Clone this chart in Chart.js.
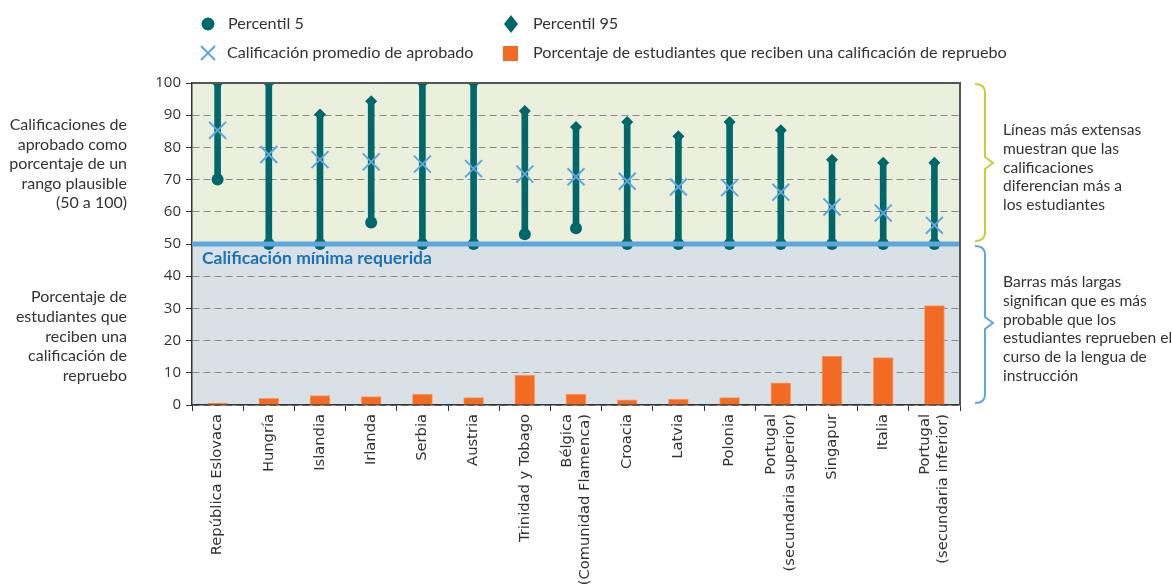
<!DOCTYPE html>
<html>
<head>
<meta charset="utf-8">
<script src="https://cdn.jsdelivr.net/npm/chart.js@4.4.1/dist/chart.umd.min.js"></script>
<style>
  body { margin: 0; background: #fff; }
</style>
</head>
<body>
<canvas id="chart" width="1172" height="588"></canvas>
<script>
// data
var paises = [
    'República Eslovaca', 'Hungría', 'Islandia', 'Irlanda', 'Serbia', 'Austria',
    'Trinidad y Tobago', ['Bélgica', '(Comunidad Flamenca)'], 'Croacia', 'Latvia',
    'Polonia', ['Portugal', '(secundaria superior)'], 'Singapur', 'Italia',
    ['Portugal', '(secundaria inferior)']
];
var percentil5  = [70, 50, 50, 56.7, 50, 50, 53, 54.9, 50, 50, 50, 50, 50, 50, 50];
var percentil95 = [100, 100, 90.2, 94.3, 100, 100, 91.3, 86.3, 87.9, 83.5, 87.9, 85.3, 76.2, 75.2, 75.2];
var promedio    = [85.3, 77.8, 76.2, 75.5, 74.8, 73.4, 71.7, 70.9, 69.5, 67.7, 67.5, 66.1, 61.5, 59.6, 55.8];
var reprueban   = [0.6, 2.1, 2.9, 2.6, 3.4, 2.3, 9.3, 3.4, 1.6, 1.8, 2.3, 6.9, 15.2, 14.7, 30.9];
var yMin = 0, yMax = 100, yStep = 10;
var minimo = 50;

var TEAL = '#00686b';
var CELESTE = '#5ea7dd';
var NARANJA = '#f36a22';
var TEXTO = '#333333';

var rangos = paises.map(function (p, i) { return [percentil5[i], percentil95[i]]; });

// category axis that centres two-line rotated labels on their tick
class CenteredCategory extends Chart.CategoryScale {
    _computeLabelItems(chartArea) {
        var items = super._computeLabelItems(chartArea);
        items.forEach(function (it) {
            if (Array.isArray(it.label) && it.label.length > 1) {
                it.options.translation[0] -= (it.label.length - 1) * it.font.lineHeight / 2;
            }
        });
        return items;
    }
}
CenteredCategory.id = 'centeredCategory';
CenteredCategory.defaults = Chart.CategoryScale.defaults;
Chart.register(CenteredCategory);

function textLines(ctx, lines, x, y0, step) {
    lines.forEach(function (t, i) { ctx.fillText(t, x, y0 + i * step); });
}

function brace(ctx, x0, yTop, yBot, yMid, color) {
    var xv = x0 + 10;
    ctx.save();
    ctx.strokeStyle = color;
    ctx.lineWidth = 2;
    ctx.beginPath();
    ctx.moveTo(x0, yTop);
    ctx.quadraticCurveTo(xv, yTop, xv, yTop + 9);
    ctx.lineTo(xv, yMid - 6);
    ctx.lineTo(xv + 8, yMid);
    ctx.lineTo(xv, yMid + 6);
    ctx.lineTo(xv, yBot - 9);
    ctx.quadraticCurveTo(xv, yBot, x0, yBot);
    ctx.stroke();
    ctx.restore();
}

var decor = {
    id: 'decor',
    beforeDraw: function (chart) {
        var ctx = chart.ctx, a = chart.chartArea, y = chart.scales.y;
        var y50 = y.getPixelForValue(minimo);
        ctx.save();
        ctx.fillStyle = '#ebf0dc';
        ctx.fillRect(a.left, a.top, a.right - a.left, y50 - a.top);
        ctx.fillStyle = '#d9e0e6';
        ctx.fillRect(a.left, y50, a.right - a.left, a.bottom - y50);
        ctx.restore();
    },
    afterDatasetsDraw: function (chart) {
        var ctx = chart.ctx, a = chart.chartArea, y = chart.scales.y;
        var y50 = y.getPixelForValue(minimo);
        ctx.save();
        ctx.strokeStyle = CELESTE;
        ctx.lineWidth = 5;
        ctx.beginPath();
        ctx.moveTo(a.left, y50);
        ctx.lineTo(a.right, y50);
        ctx.stroke();
        ctx.fillStyle = '#1a72b5';
        ctx.font = 'bold 17.5px Lato';
        ctx.textBaseline = 'middle';
        ctx.fillText('Calificación mínima requerida', a.left + 10, y50 + 14);
        ctx.restore();
    },
    afterDraw: function (chart) {
        var ctx = chart.ctx, a = chart.chartArea;
        ctx.save();
        // frame top and right
        ctx.strokeStyle = '#555';
        ctx.lineWidth = 2;
        ctx.beginPath();
        ctx.moveTo(a.left, a.top);
        ctx.lineTo(a.right, a.top);
        ctx.lineTo(a.right, a.bottom);
        ctx.stroke();

        // legend
        ctx.fillStyle = TEAL;
        ctx.beginPath();
        ctx.arc(208, 24, 6.5, 0, Math.PI * 2);
        ctx.fill();
        ctx.beginPath();
        ctx.moveTo(511, 15); ctx.lineTo(518, 24); ctx.lineTo(511, 33); ctx.lineTo(504, 24);
        ctx.closePath();
        ctx.fill();
        ctx.strokeStyle = CELESTE;
        ctx.lineWidth = 2;
        ctx.beginPath();
        ctx.moveTo(201, 46); ctx.lineTo(215, 60);
        ctx.moveTo(215, 46); ctx.lineTo(201, 60);
        ctx.stroke();
        ctx.fillStyle = NARANJA;
        ctx.fillRect(503, 46, 15, 15);

        ctx.fillStyle = TEXTO;
        ctx.font = '16.2px Lato';
        ctx.textBaseline = 'middle';
        ctx.fillText('Percentil 5', 228, 24);
        ctx.fillText('Percentil 95', 533, 24);
        ctx.fillText('Calificación promedio de aprobado', 227, 53);
        ctx.fillText('Porcentaje de estudiantes que reciben una calificación de repruebo', 533, 53);

        // left notes
        ctx.font = '16px Lato';
        ctx.textAlign = 'right';
        textLines(ctx, ['Calificaciones de', 'aprobado como', 'porcentaje de un',
            'rango plausible', '(50 a 100)'], 127, 125, 19.5);
        textLines(ctx, ['Porcentaje de', 'estudiantes que', 'reciben una',
            'calificación de', 'repruebo'], 127, 297, 19.7);

        // right notes
        ctx.font = '15.6px Lato';
        ctx.textAlign = 'left';
        textLines(ctx, ['Líneas más extensas', 'muestran que las', 'calificaciones',
            'diferencian más a', 'los estudiantes'], 1003, 130, 18.8);
        textLines(ctx, ['Barras más largas', 'significan que es más', 'probable que los',
            'estudiantes reprueben el', 'curso de la lengua de', 'instrucción'], 1003, 282, 18.8);
        ctx.restore();

        brace(ctx, 975, 84, 241, 163, '#bdd435');
        brace(ctx, 975, 246, 403, 323, CELESTE);
    }
};

var ctx = document.getElementById('chart').getContext('2d');
var chart = new Chart(ctx, {
    type: 'bar',
    data: {
        labels: paises,
        datasets: [
            {
                type: 'line',
                label: 'Calificación promedio de aprobado',
                data: promedio,
                showLine: false,
                pointStyle: 'crossRot',
                pointRadius: 12,
                pointBorderWidth: 2,
                pointBorderColor: CELESTE,
                order: 0
            },
            {
                type: 'line',
                label: 'Percentil 95',
                data: percentil95,
                showLine: false,
                pointStyle: 'rectRot',
                pointRadius: 6,
                pointBorderWidth: 0,
                pointBackgroundColor: TEAL,
                clip: 0,
                order: 1
            },
            {
                type: 'line',
                label: 'Percentil 5',
                data: percentil5,
                showLine: false,
                pointStyle: 'circle',
                pointRadius: 6,
                pointBorderWidth: 0,
                pointBackgroundColor: TEAL,
                order: 1
            },
            {
                label: 'rango',
                data: rangos,
                backgroundColor: TEAL,
                barThickness: 6,
                grouped: false,
                order: 2
            },
            {
                label: 'Porcentaje de estudiantes que reciben una calificación de repruebo',
                data: reprueban,
                backgroundColor: NARANJA,
                borderColor: '#f7a06c',
                borderWidth: 1,
                borderSkipped: 'bottom',
                barThickness: 20,
                grouped: false,
                order: 3
            }
        ]
    },
    options: {
        responsive: false,
        animation: false,
        layout: { padding: { top: 83, right: 212, left: 0, bottom: 0 } },
        plugins: {
            legend: { display: false },
            tooltip: { enabled: false }
        },
        scales: {
            x: {
                type: 'centeredCategory',
                afterFit: function (s) { s.height = 183; },
                grid: {
                    offset: true,
                    drawOnChartArea: false,
                    tickLength: 6,
                    tickColor: TEXTO,
                    tickWidth: 1
                },
                border: { color: TEXTO, width: 1.5 },
                ticks: {
                    minRotation: 90,
                    maxRotation: 90,
                    autoSkip: false,
                    padding: 3,
                    color: TEXTO,
                    font: { family: '"DejaVu Sans"', size: 14.7, lineHeight: 1.25 }
                }
            },
            y: {
                min: yMin,
                max: yMax,
                afterFit: function (s) { s.width = 192; },
                grid: {
                    color: '#8a8a8a',
                    lineWidth: 1,
                    tickLength: 6,
                    tickColor: TEXTO,
                    tickBorderDash: [0, 0]
                },
                border: { color: TEXTO, width: 1.5, dash: [7, 4] },
                ticks: {
                    stepSize: yStep,
                    padding: 5,
                    color: TEXTO,
                    font: { family: '"Open Sans"', size: 15 }
                }
            }
        }
    },
    plugins: [decor]
});
</script>
</body>
</html>
